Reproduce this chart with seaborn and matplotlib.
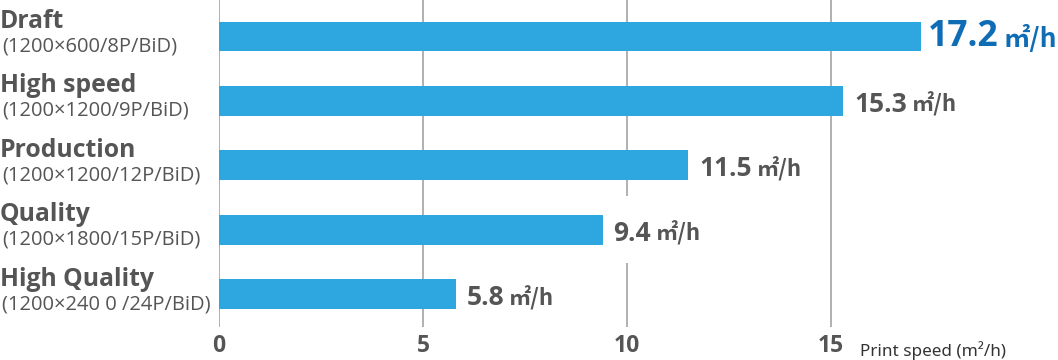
import matplotlib
matplotlib.use("Agg")
import matplotlib.pyplot as plt
import matplotlib.transforms as mtransforms
from matplotlib.patches import Rectangle
import seaborn as sns

modes = ["Draft", "High speed", "Production", "Quality", "High Quality"]
specs = ["(1200×600/8P/BiD)", "(1200×1200/9P/BiD)", "(1200×1200/12P/BiD)",
         "(1200×1800/15P/BiD)", "(1200×240 0 /24P/BiD)"]
speeds = [17.2, 15.3, 11.5, 9.4, 5.8]
xticks = [0, 5, 10, 15]
unit = "㎡/h"
axis_title = "Print speed (m²/h)"

sns.set_theme(style="white")
plt.rcParams['font.family'] = ['Open Sans', 'DejaVu Sans']

BAR = "#2ea6e0"
GRAY = "#555555"
BLUE = "#0f6db6"
GRID = "#b0b0b0"

W, H = 1058, 360
fig = plt.figure(figsize=(W / 100, H / 100), dpi=100)
ax = fig.add_axes([219 / W, 33 / H, 839 / W, 327 / H])

sns.barplot(x=speeds, y=modes, orient="h", color=BAR, saturation=1,
            width=0.465, ax=ax, zorder=2, linewidth=0)

px = 72 / 100  # points per pixel
ax.set_xlim(0, 839 / 40.8)
ax.set_ylim((327 - 36.5) / 64.4, -36.5 / 64.4)
ax.set_xticks(xticks)
ax.set_xticklabels([str(t) for t in xticks])
ax.tick_params(axis="x", length=0, pad=7 * px, labelsize=16.5, labelcolor=GRAY)
for lab in ax.get_xticklabels():
    lab.set_fontweight("bold")
ax.set_yticks([])
ax.set_ylabel("")
ax.set_xlabel("")
for s in ax.spines.values():
    s.set_visible(False)
ax.set_axisbelow(True)
ax.grid(axis="x", color=GRID, linewidth=1.4)
ax.grid(axis="y", visible=False)

blend = mtransforms.blended_transform_factory(fig.transFigure, ax.transData)
for i, (m, s) in enumerate(zip(modes, specs)):
    ax.annotate(m, xy=(0, i), xycoords=blend, xytext=(0, 15 * px),
                textcoords="offset points", ha="left", va="center",
                fontsize=17.8, fontweight="bold", color=GRAY, annotation_clip=False)
    ax.annotate(s, xy=(0, i), xycoords=blend, xytext=(2 * px, -10 * px),
                textcoords="offset points", ha="left", va="center",
                fontsize=14.5, color=GRAY, annotation_clip=False)

fig.canvas.draw()
renderer = fig.canvas.get_renderer()
unit_per_px = ax.get_xlim()[1] / 839
for i, v in enumerate(speeds):
    first = i == 0
    col = BLUE if first else GRAY
    nsize = 25.5 if first else 19
    usize = 19 if first else 16
    base = -10 if first else -11
    gap = 7 if first else 11
    t = ax.annotate(f"{v}", xy=(v, i), xytext=(gap * px, base * px),
                    textcoords="offset points", ha="left", va="baseline",
                    fontsize=nsize, fontweight="bold", color=col,
                    zorder=3, annotation_clip=False)
    tw = t.get_window_extent(renderer).width
    u = ax.annotate(unit, xy=(v, i), xytext=((gap + tw + 5) * px, base * px),
                    textcoords="offset points", ha="left", va="baseline",
                    fontsize=usize, fontweight="bold", color=col,
                    family=["Noto Sans CJK JP", "DejaVu Sans"], zorder=3,
                    annotation_clip=False)
    uw = u.get_window_extent(renderer).width
    # white label backing that hides gridlines behind the value label
    ax.add_patch(Rectangle((v, i - 0.52), (gap + tw + 5 + uw + 6) * unit_per_px, 1.04,
                           facecolor="white", edgecolor="none", zorder=1))

fig.text(860 / W, 1 - 351 / H, axis_title, ha="left", va="center",
         fontsize=12.3, color="#333333", family=["Noto Sans", "DejaVu Sans"])

fig.savefig("out.png", dpi=100, facecolor="white")
